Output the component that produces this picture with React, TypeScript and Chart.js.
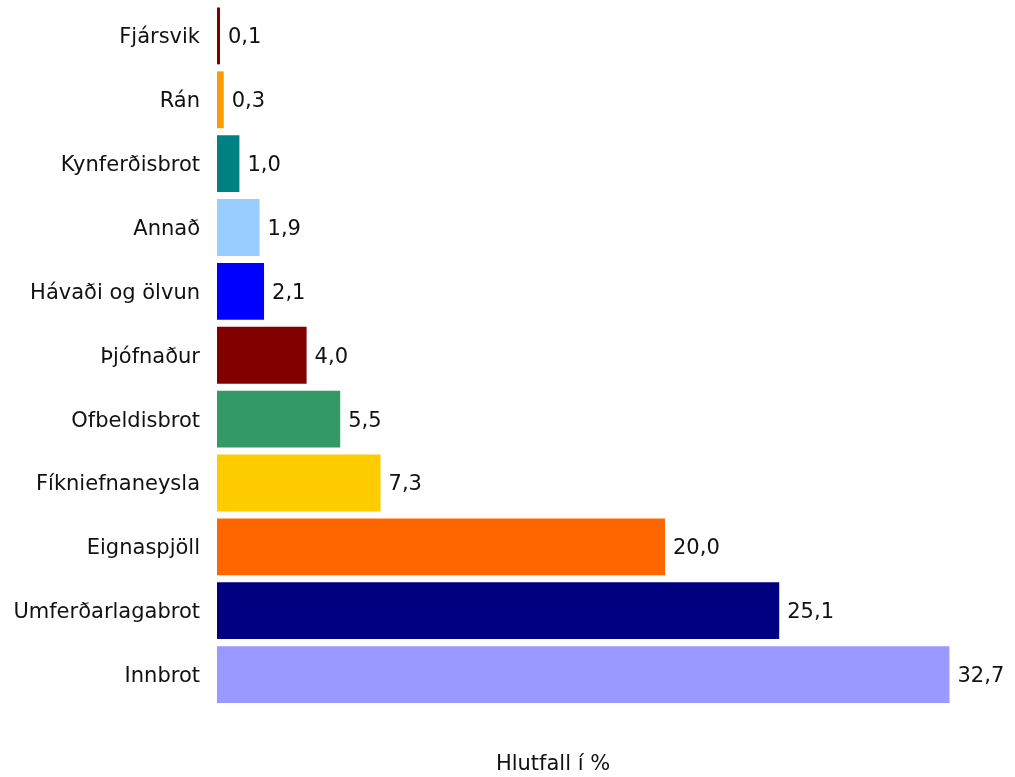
import React, { useEffect, useRef } from "react";
import { Chart, registerables } from "chart.js";

Chart.register(...registerables);

const categories = [
  "Fjársvik",
  "Rán",
  "Kynferðisbrot",
  "Annað",
  "Hávaði og ölvun",
  "Þjófnaður",
  "Ofbeldisbrot",
  "Fíkniefnaneysla",
  "Eignaspjöll",
  "Umferðarlagabrot",
  "Innbrot",
];
const values = [0.1, 0.3, 1.0, 1.9, 2.1, 4.0, 5.5, 7.3, 20.0, 25.1, 32.7];
const barColors = [
  "#800000",
  "#FF9900",
  "#008080",
  "#99CCFF",
  "#0000FF",
  "#800000",
  "#339966",
  "#FFCC00",
  "#FF6600",
  "#000080",
  "#9999FF",
];
const xTitle = "Hlutfall í %";

const FONT = "'DejaVu Sans', Verdana, sans-serif";

const valueLabels = {
  id: "valueLabels",
  afterDatasetsDraw(chart: any) {
    const ctx = chart.ctx;
    const meta = chart.getDatasetMeta(0);
    ctx.save();
    ctx.font = `21px ${FONT}`;
    ctx.fillStyle = "#111";
    ctx.textAlign = "left";
    ctx.textBaseline = "middle";
    meta.data.forEach((bar: any, i: number) => {
      const v = values[i];
      ctx.fillText(v.toFixed(1).replace(".", ","), bar.x + 8, bar.y + 2);
    });
    ctx.restore();
  },
};

export default function App() {
  const ref = useRef<HTMLCanvasElement>(null);
  useEffect(() => {
    if (!ref.current) return;
    const chart = new Chart(ref.current, {
      type: "bar",
      data: {
        labels: categories,
        datasets: [
          {
            data: values,
            backgroundColor: barColors,
            borderWidth: 0,
            barPercentage: 0.89,
            categoryPercentage: 1,
            minBarLength: 3,
            clip: false as any,
          },
        ],
      },
      options: {
        indexAxis: "y",
        animation: false,
        responsive: false,
        layout: { padding: { top: 4, right: 126, bottom: 0, left: 0 } },
        plugins: {
          legend: { display: false },
          tooltip: { enabled: false },
        },
        scales: {
          x: {
            min: 0,
            max: 30,
            grid: { display: false, drawTicks: false },
            border: { display: false },
            ticks: { display: false },
            title: {
              display: true,
              text: xTitle,
              color: "#111",
              font: { family: FONT, size: 21 },
              padding: { top: 0, bottom: 0 },
            },
            afterFit(scale: any) {
              scale.height = 70.5;
              scale.paddingLeft = 0;
              scale.paddingRight = 0;
            },
          },
          y: {
            grid: { display: false, drawTicks: false },
            border: { display: false },
            ticks: {
              color: "#111",
              padding: 17,
              labelOffset: 2,
              font: { family: FONT, size: 21 },
            },
            afterFit(scale: any) {
              scale.width = 217;
              scale.paddingTop = 0;
              scale.paddingBottom = 0;
            },
          },
        },
      },
      plugins: [valueLabels],
    });
    return () => chart.destroy();
  }, []);
  return (
    <div style={{ position: "absolute", left: 0, top: 0, width: 1015, height: 777 }}>
      <canvas ref={ref} width={1015} height={777} />
    </div>
  );
}
